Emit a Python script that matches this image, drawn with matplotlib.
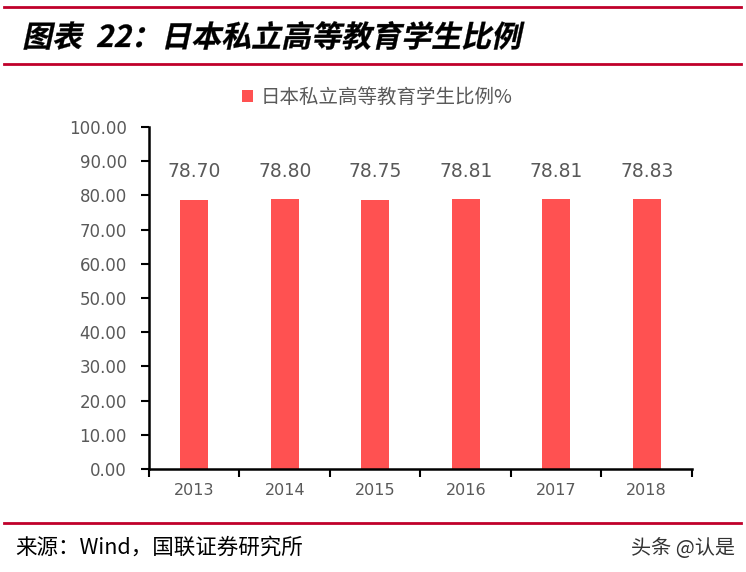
import matplotlib
matplotlib.use('Agg')
import matplotlib.pyplot as plt
from matplotlib.lines import Line2D
from matplotlib.textpath import TextPath
from matplotlib.patches import PathPatch
from matplotlib.font_manager import FontProperties
from matplotlib.transforms import Affine2D
import numpy as np

plt.rcParams['font.family'] = ['Noto Sans CJK SC', 'DejaVu Sans']

years = ['2013', '2014', '2015', '2016', '2017', '2018']
ratio = [78.70, 78.80, 78.75, 78.81, 78.81, 78.83]
series_name = '日本私立高等教育学生比例%'
title = '图表  22：日本私立高等教育学生比例'
source = '来源：Wind，国联证券研究所'
mark = '头条 @认是'

red_line = '#C0002A'
bar_col = '#FF5151'
grey = '#595959'
num_font = 'DejaVu Sans'

fig = plt.figure(figsize=(7.46, 5.72), dpi=100)
ax = fig.add_axes([0.1997, 0.18, 0.7279, 0.598])

x = np.arange(len(years))
ax.bar(x, ratio, width=0.31, color=bar_col, label=series_name)
for xi, v in zip(x, ratio):
    ax.text(xi, v + 5.5, '%.2f' % v, ha='center', va='bottom',
            fontsize=13.5, color=grey, family=num_font)

ax.set_xlim(-0.5, len(years) - 0.5)
ax.set_ylim(0, 100)
ax.set_yticks(np.arange(0, 101, 10))
ax.set_yticklabels(['%.2f' % t for t in np.arange(0, 101, 10)],
                   fontsize=12, color=grey, family=num_font)
ax.set_xticks(np.arange(-0.5, len(years), 1.0))
ax.set_xticklabels([])
ax.set_xticks(x, minor=True)
ax.set_xticklabels(years, minor=True, fontsize=11.5, color=grey, family=num_font)
ax.tick_params(axis='x', which='major', direction='out', length=6, width=1.5)
ax.tick_params(axis='x', which='minor', length=0, pad=10)
ax.tick_params(axis='y', direction='out', length=6, width=1.5, pad=10)
for s in ['top', 'right']:
    ax.spines[s].set_visible(False)
ax.spines['left'].set_linewidth(1.8)
ax.spines['bottom'].set_linewidth(1.8)

ax.legend(loc='lower center', bbox_to_anchor=(0.42, 1.005), frameon=False,
          fontsize=14, labelcolor=grey, handlelength=0.55, handleheight=0.55,
          handletextpad=0.4)

# header/footer rules
for yy in [1 - 7 / 572, 1 - 64 / 572, 1 - 523 / 572]:
    fig.add_artist(Line2D([0.005, 0.993], [yy, yy], color=red_line, lw=2,
                          transform=fig.transFigure))

# italic-looking title: skew a text path
tp = TextPath((0, 0), title, size=30,
              prop=FontProperties(family=['Noto Sans CJK SC'], weight='bold'))
tr = Affine2D().skew_deg(12, 0).translate(22, 572 - 47)
fig.add_artist(PathPatch(tp, transform=tr, facecolor='black', edgecolor='black',
                         lw=0.2))

fig.text(0.02, 1 - 548 / 572, source, fontsize=15.5, va='center', ha='left',
         color='black')
fig.text(0.985, 1 - 548 / 572, mark, fontsize=14.5, va='center', ha='right',
         color='#333333')

fig.savefig('out.png', dpi=100)
